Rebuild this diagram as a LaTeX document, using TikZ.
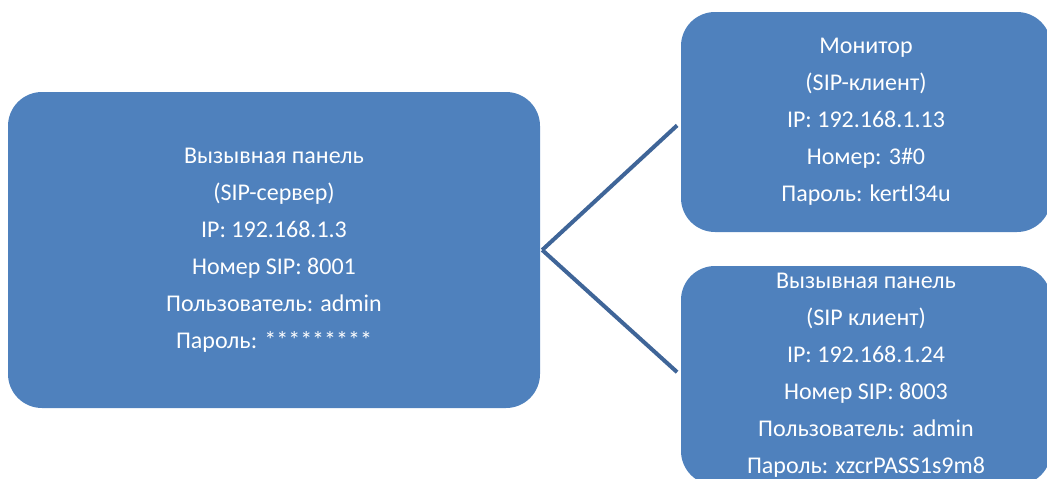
\documentclass[tikz,border=0pt]{standalone}
\usepackage{fontspec}
\setmainfont{Carlito}
\usepackage{tikz}
\usetikzlibrary{positioning, calc}
\definecolor{boxfill}{HTML}{4F81BD}
\definecolor{linkline}{HTML}{3F6598}

\begin{document}
\begin{tikzpicture}[x=1pt, y=-1pt,
  font=\fontsize{24}{37}\selectfont,
  device/.style={fill=boxfill, text=white, rounded corners=34pt, align=center, inner sep=0pt},
  link/.style={linkline, line width=4pt}]
  % Canvas
  \useasboundingbox (0,0) rectangle (1047,479);
  \clip (0,0) rectangle (1047,479);
  % Server panel
  \node[device, minimum width=532pt, minimum height=316pt] (server) at (274,250)
    {Вызывная панель\\(SIP-сервер)\\IP: 192.168.1.3\\Номер SIP: 8001\\Пользователь: admin\\Пароль: *********};
  % Clients
  \node[device, minimum width=370pt, minimum height=220pt] (monitor) at (866,122)
    {Монитор\\(SIP-клиент)\\IP: 192.168.1.13\\Номер: 3\#0\\Пароль: kertl34u};
  \node[device, minimum width=370pt, minimum height=219pt] (panel) at (866,375.5)
    {Вызывная панель\\(SIP клиент)\\IP: 192.168.1.24\\Номер SIP: 8003\\Пользователь: admin\\Пароль: xzcrPASS1s9m8};
  % Links
  \coordinate (hub) at ($(server.east)+(2,0)$);
  \draw[link, shorten >=5pt] (hub) -- (monitor.west);
  \draw[link, shorten >=5pt] (hub) -- (panel.west);
\end{tikzpicture}
\end{document}
